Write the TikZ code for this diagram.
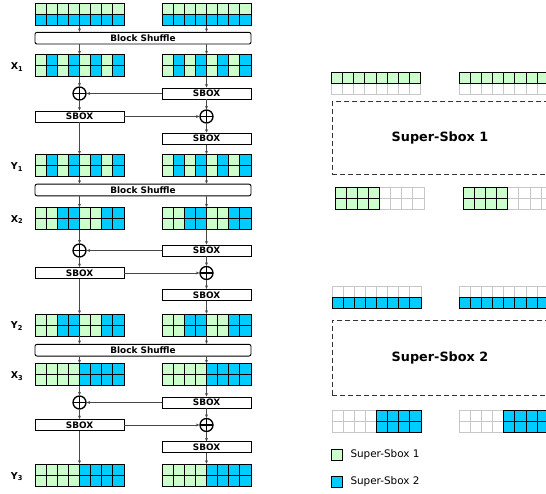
\documentclass[tikz,border=0pt]{standalone}
\usepackage{fontspec}
\setmainfont{DejaVu Sans}
\usetikzlibrary{arrows.meta, positioning}

\definecolor{ssgreen}{RGB}{204,255,204}
\definecolor{ssblue}{RGB}{0,204,255}

% one row of state cells: left x, top y, first column, cell styles
\newcommand{\cellrow}[4]{%
  \foreach \c [count=\i from #3] in {#4}
    \draw[\c] ({#1+\i*11.125},{#2}) rectangle ++(11.125,11);
}
% two-row state with a named area for the connectors
\newcommand{\stategrid}[5]{%
  \cellrow{#2}{#3}{0}{#4}
  \cellrow{#2}{#3+11}{0}{#5}
  \node[gridarea] (#1) at ({#2+44.5},{#3+11}) {};
}

\begin{document}
\begin{tikzpicture}[x=1pt, y=-1pt,
    gc/.style={fill=ssgreen, draw=black, line width=0.9pt},
    bc/.style={fill=ssblue, draw=black, line width=0.9pt},
    ec/.style={fill=white, draw=black!22, line width=0.9pt},
    gridarea/.style={minimum width=89pt, minimum height=22pt, inner sep=0pt},
    shufbox/.style={draw, line width=0.9pt, rounded corners=2pt, minimum width=216pt, minimum height=11.7pt, inner sep=0pt, font=\fontsize{8.9}{9}\selectfont\bfseries},
    sbox/.style={draw, line width=0.9pt, minimum width=89pt, minimum height=11pt, inner sep=0pt, font=\fontsize{8.9}{9}\selectfont\bfseries},
    oplus/.style={circle, draw, line width=1.3pt, minimum size=13pt, inner sep=0pt,
      path picture={\draw[line width=1.3pt] (path picture bounding box.north) -- (path picture bounding box.south)
        (path picture bounding box.west) -- (path picture bounding box.east);}},
    statelabel/.style={font=\fontsize{9.5}{10}\selectfont\bfseries},
    ssbox/.style={draw=black!80, line width=0.9pt, dash pattern=on 5pt off 3pt, minimum width=216pt, inner sep=0pt, font=\fontsize{12.8}{14}\selectfont\bfseries},
    legendsq/.style={draw, line width=0.9pt, minimum size=11pt, inner sep=0pt},
    flow/.style={draw=black!72, line width=0.9pt, -{Stealth[length=3.5pt, width=3pt]}}]

    \useasboundingbox (0,0) rectangle (546,494);
    \clip (0,0) rectangle (546,494);

    % input states
    \stategrid{inL}{35}{3.5}{gc,gc,gc,gc,gc,gc,gc,gc}{bc,bc,bc,bc,bc,bc,bc,bc}
    \stategrid{inR}{162}{3.5}{gc,gc,gc,gc,gc,gc,gc,gc}{bc,bc,bc,bc,bc,bc,bc,bc}

    % round 1
    \node[shufbox] (bs1) at (143,38.2) {Block Shuffle};
    \stategrid{xL1}{35}{54.5}{gc,bc,gc,bc,gc,bc,gc,bc}{gc,bc,gc,bc,gc,bc,gc,bc}
    \stategrid{xR1}{162}{54.5}{gc,bc,gc,bc,gc,bc,gc,bc}{gc,bc,gc,bc,gc,bc,gc,bc}
    \node[statelabel] (lx1) at (17,67) {X\textsubscript{1}};
    \node[sbox] (sbR1a) at (206.5,93.5) {SBOX};
    \node[oplus] (xorL1) at (79.5,93.5) {};
    \node[sbox] (sbL1) at (79.5,116.5) {SBOX};
    \node[oplus] (xorR1) at (206.5,116.5) {};
    \node[sbox] (sbR1b) at (206.5,138.7) {SBOX};
    \stategrid{yL1}{35}{154.5}{gc,bc,gc,bc,gc,bc,gc,bc}{gc,bc,gc,bc,gc,bc,gc,bc}
    \stategrid{yR1}{162}{154.5}{gc,bc,gc,bc,gc,bc,gc,bc}{gc,bc,gc,bc,gc,bc,gc,bc}
    \node[statelabel] (ly1) at (17,167) {Y\textsubscript{1}};

    % round 2
    \node[shufbox] (bs2) at (143,190) {Block Shuffle};
    \stategrid{xL2}{35}{207.5}{gc,gc,bc,bc,gc,gc,bc,bc}{gc,gc,bc,bc,gc,gc,bc,bc}
    \stategrid{xR2}{162}{207.5}{gc,gc,bc,bc,gc,gc,bc,bc}{gc,gc,bc,bc,gc,gc,bc,bc}
    \node[statelabel] (lx2) at (17,219.5) {X\textsubscript{2}};
    \node[sbox] (sbR2a) at (206.5,250.5) {SBOX};
    \node[oplus] (xorL2) at (79.5,250.5) {};
    \node[sbox] (sbL2) at (79.5,273) {SBOX};
    \node[oplus] (xorR2) at (206.5,273) {};
    \node[sbox] (sbR2b) at (206.5,294.8) {SBOX};
    \stategrid{yL2}{35}{314}{gc,gc,bc,bc,gc,gc,bc,bc}{gc,gc,bc,bc,gc,gc,bc,bc}
    \stategrid{yR2}{162}{314}{gc,gc,bc,bc,gc,gc,bc,bc}{gc,gc,bc,bc,gc,gc,bc,bc}
    \node[statelabel] (ly2) at (17,326) {Y\textsubscript{2}};

    % round 3
    \node[shufbox] (bs3) at (143,350.2) {Block Shuffle};
    \stategrid{xL3}{35}{363.5}{gc,gc,gc,gc,bc,bc,bc,bc}{gc,gc,gc,gc,bc,bc,bc,bc}
    \stategrid{xR3}{162}{363.5}{gc,gc,gc,gc,bc,bc,bc,bc}{gc,gc,gc,gc,bc,bc,bc,bc}
    \node[statelabel] (lx3) at (17,376) {X\textsubscript{3}};
    \node[sbox] (sbR3a) at (206.5,402.5) {SBOX};
    \node[oplus] (xorL3) at (79.5,402.5) {};
    \node[sbox] (sbL3) at (79.5,425) {SBOX};
    \node[oplus] (xorR3) at (206.5,425) {};
    \node[sbox] (sbR3b) at (206.5,447.3) {SBOX};
    \stategrid{yL3}{35}{464}{gc,gc,gc,gc,bc,bc,bc,bc}{gc,gc,gc,gc,bc,bc,bc,bc}
    \stategrid{yR3}{162}{464}{gc,gc,gc,gc,bc,bc,bc,bc}{gc,gc,gc,gc,bc,bc,bc,bc}
    \node[statelabel] (ly3) at (17,476.5) {Y\textsubscript{3}};

    % data flow
    \draw[flow] (inL) -- (inL |- bs1.north);
    \draw[flow] (inR) -- (inR |- bs1.north);
    \draw[flow] (xL1 |- bs1.south) -- (xL1);
    \draw[flow] (xR1 |- bs1.south) -- (xR1);
    \draw[flow] (xL1) -- (xorL1);
    \draw[flow] (xR1) -- (sbR1a);
    \draw[flow] (sbR1a) -- (xorL1);
    \draw[flow] (xorL1) -- (sbL1);
    \draw[flow] (sbL1) -- (xorR1);
    \draw[flow] (sbR1a) -- (xorR1);
    \draw[flow] (xorR1) -- (sbR1b);
    \draw[flow] (sbL1) -- (yL1);
    \draw[flow] (sbR1b) -- (yR1);
    \draw[flow] (yL1) -- (yL1 |- bs2.north);
    \draw[flow] (yR1) -- (yR1 |- bs2.north);
    \draw[flow] (xL2 |- bs2.south) -- (xL2);
    \draw[flow] (xR2 |- bs2.south) -- (xR2);
    \draw[flow] (xL2) -- (xorL2);
    \draw[flow] (xR2) -- (sbR2a);
    \draw[flow] (sbR2a) -- (xorL2);
    \draw[flow] (xorL2) -- (sbL2);
    \draw[flow] (sbL2) -- (xorR2);
    \draw[flow] (sbR2a) -- (xorR2);
    \draw[flow] (xorR2) -- (sbR2b);
    \draw[flow] (sbL2) -- (yL2);
    \draw[flow] (sbR2b) -- (yR2);
    \draw[flow] (yL2) -- (yL2 |- bs3.north);
    \draw[flow] (yR2) -- (yR2 |- bs3.north);
    \draw[flow] (xL3 |- bs3.south) -- (xL3);
    \draw[flow] (xR3 |- bs3.south) -- (xR3);
    \draw[flow] (xL3) -- (xorL3);
    \draw[flow] (xR3) -- (sbR3a);
    \draw[flow] (sbR3a) -- (xorL3);
    \draw[flow] (xorL3) -- (sbL3);
    \draw[flow] (sbL3) -- (xorR3);
    \draw[flow] (sbR3a) -- (xorR3);
    \draw[flow] (xorR3) -- (sbR3b);
    \draw[flow] (sbL3) -- (yL3);
    \draw[flow] (sbR3b) -- (yR3);

    % Super-Sbox 1
    \cellrow{331.5}{83.7}{0}{ec,ec,ec,ec,ec,ec,ec,ec}
    \cellrow{331.5}{72.7}{0}{gc,gc,gc,gc,gc,gc,gc,gc}
    \cellrow{459.3}{83.7}{0}{ec,ec,ec,ec,ec,ec,ec,ec}
    \cellrow{459.3}{72.7}{0}{gc,gc,gc,gc,gc,gc,gc,gc}
    \node[ssbox, minimum height=72.6pt] (ss1) at (440,138) {Super-Sbox 1};
    \cellrow{335}{187.5}{4}{ec,ec,ec,ec}
    \cellrow{335}{198.5}{4}{ec,ec,ec,ec}
    \cellrow{335}{187.5}{0}{gc,gc,gc,gc}
    \cellrow{335}{198.5}{0}{gc,gc,gc,gc}
    \cellrow{463.3}{187.5}{4}{ec,ec,ec,ec}
    \cellrow{463.3}{198.5}{4}{ec,ec,ec,ec}
    \cellrow{463.3}{187.5}{0}{gc,gc,gc,gc}
    \cellrow{463.3}{198.5}{0}{gc,gc,gc,gc}

    % Super-Sbox 2
    \cellrow{332}{286}{0}{ec,ec,ec,ec,ec,ec,ec,ec}
    \cellrow{332}{297}{0}{bc,bc,bc,bc,bc,bc,bc,bc}
    \cellrow{459.3}{286}{0}{ec,ec,ec,ec,ec,ec,ec,ec}
    \cellrow{459.3}{297}{0}{bc,bc,bc,bc,bc,bc,bc,bc}
    \node[ssbox, minimum height=74.3pt] (ss2) at (440,357.9) {Super-Sbox 2};
    \cellrow{332}{410.7}{0}{ec,ec,ec,ec}
    \cellrow{332}{421.7}{0}{ec,ec,ec,ec}
    \cellrow{332}{410.7}{4}{bc,bc,bc,bc}
    \cellrow{332}{421.7}{4}{bc,bc,bc,bc}
    \cellrow{459.3}{410.7}{0}{ec,ec,ec,ec}
    \cellrow{459.3}{421.7}{0}{ec,ec,ec,ec}
    \cellrow{459.3}{410.7}{4}{bc,bc,bc,bc}
    \cellrow{459.3}{421.7}{4}{bc,bc,bc,bc}

    % legend
    \node[legendsq, fill=ssgreen] (leg1) at (337.2,454.7) {};
    \node[anchor=west, font=\fontsize{10.4}{12}\selectfont] (legtxt1) at (347,454.7) {Super-Sbox 1};
    \node[legendsq, fill=ssblue] (leg2) at (337.2,481.8) {};
    \node[anchor=west, font=\fontsize{10.4}{12}\selectfont] (legtxt2) at (347,481.8) {Super-Sbox 2};
\end{tikzpicture}
\end{document}
